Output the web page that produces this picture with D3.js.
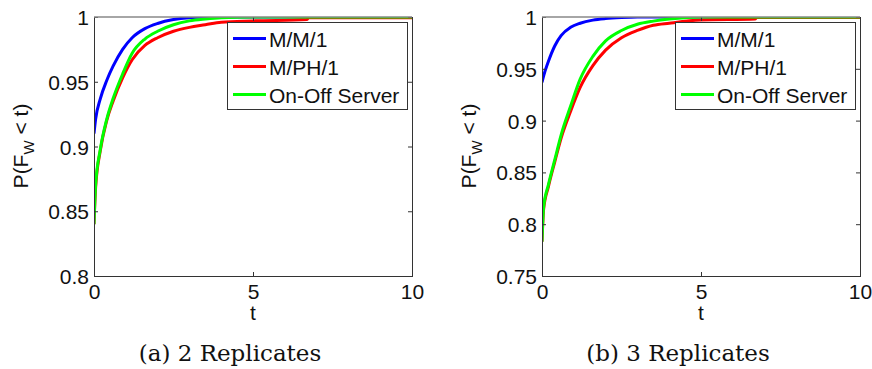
<!DOCTYPE html>
<html>
<head>
<meta charset="utf-8">
<script src="https://cdn.jsdelivr.net/npm/d3@7"></script>
<style>
body { margin: 0; background: #fff; }
text { font-family: "Liberation Sans", Arial, sans-serif; }
</style>
</head>
<body>
<script>
// time grid shared by all curves
var tGrid = [0, 0.05, 0.2, 0.4, 0.6, 0.9, 1.2, 1.6, 2.0, 2.5, 3.0, 3.5, 4.0, 5.0, 6.7, 6.75, 10];

// (a) 2 replicates
var mm1A   = [0.910, 0.921, 0.937, 0.951, 0.962, 0.975, 0.984, 0.991, 0.995, 0.998, 0.9995, 1, 1, 1, 1, 1, 1];
var mph1A  = [0.840, 0.868, 0.897, 0.920, 0.935, 0.953, 0.967, 0.978, 0.984, 0.989, 0.992, 0.994, 0.996, 0.997, 0.998, 0.9995, 0.9995];
var onoffA = [0.840, 0.870, 0.898, 0.921, 0.937, 0.956, 0.972, 0.983, 0.989, 0.994, 0.997, 0.9985, 0.9995, 1, 1, 1, 1];

// (b) 3 replicates
var mm1B   = [0.937, 0.943, 0.957, 0.972, 0.982, 0.990, 0.994, 0.997, 0.9985, 0.9995, 1, 1, 1, 1, 1, 1, 1];
var mph1B  = [0.783, 0.814, 0.836, 0.860, 0.883, 0.909, 0.932, 0.953, 0.968, 0.980, 0.987, 0.992, 0.994, 0.997, 0.998, 0.9995, 0.9995];
var onoffB = [0.783, 0.816, 0.838, 0.862, 0.886, 0.914, 0.940, 0.962, 0.977, 0.987, 0.993, 0.996, 0.998, 1, 1, 1, 1];

var seriesNames = ["M/M/1", "M/PH/1", "On-Off Server"];
var seriesColors = ["#0000ff", "#ff0000", "#00ff00"];
var xTicks = [0, 5, 10];
var yTicksA = [0.8, 0.85, 0.9, 0.95, 1];
var yTicksB = [0.75, 0.8, 0.85, 0.9, 0.95, 1];

var svg = d3.select("body").append("svg")
	.attr("width", 872)
	.attr("height", 369);

function drawPanel(id, left, yDomain, yTicks, data, caption) {
	var top = 17, w = 318, h = 259;
	var x = d3.scaleLinear().domain([0, 10]).range([left, left + w]);
	var y = d3.scaleLinear().domain(yDomain).range([top + h, top]);
	var g = svg.append("g");

	g.append("clipPath").attr("id", "clip" + id)
		.append("rect").attr("x", left).attr("y", top).attr("width", w).attr("height", h);

	var line = d3.line()
		.x(function(d) { return x(d[0]); })
		.y(function(d) { return y(d[1]); })
		.curve(d3.curveMonotoneX);

	data.forEach(function(vals, i) {
		g.append("path")
			.datum(tGrid.map(function(t, k) { return [t, vals[k]]; }))
			.attr("d", line)
			.attr("clip-path", "url(#clip" + id + ")")
			.attr("fill", "none")
			.attr("stroke", seriesColors[i])
			.attr("stroke-width", 3);
	});

	// axes with inward ticks
	var fmt = function(d) { return String(d); };
	var ax = g.append("g").attr("transform", "translate(0," + (top + h) + ")")
		.call(d3.axisBottom(x).tickValues(xTicks).tickSize(-4).tickPadding(8).tickFormat(fmt));
	var ay = g.append("g").attr("transform", "translate(" + left + ",0)")
		.call(d3.axisLeft(y).tickValues(yTicks).tickSize(-4).tickPadding(5).tickFormat(fmt));
	g.append("g").attr("transform", "translate(0," + top + ")")
		.call(d3.axisTop(x).tickValues(xTicks).tickSize(-4).tickFormat(""));
	g.append("g").attr("transform", "translate(" + (left + w) + ",0)")
		.call(d3.axisRight(y).tickValues(yTicks).tickSize(-4).tickFormat(""));
	g.selectAll(".domain").remove();
	g.selectAll(".tick line").attr("stroke", "#333");
	g.selectAll(".tick text").attr("font-size", 21).attr("fill", "#111")
		.style("font-family", "'Liberation Sans', Arial, sans-serif");
	ax.selectAll(".tick text").attr("dy", "0.71em");
	ay.selectAll(".tick text").attr("dy", "0.36em");

	// box
	g.append("path")
		.attr("d", "M" + left + "," + top + "V" + (top + h) + "H" + (left + w) + "V" + top)
		.attr("fill", "none").attr("stroke", "#333").attr("stroke-width", 1)
		.attr("shape-rendering", "crispEdges");
	g.append("line")
		.attr("x1", left).attr("x2", left + w).attr("y1", top).attr("y2", top)
		.attr("stroke", "#888").attr("stroke-width", 1.5);

	// axis labels
	g.append("text")
		.attr("x", left + w / 2).attr("y", 320)
		.attr("text-anchor", "middle").attr("font-size", 21).attr("fill", "#111")
		.text("t");
	var yl = g.append("text")
		.attr("transform", "translate(" + (left - 66) + "," + 146 + ") rotate(-90)")
		.attr("text-anchor", "middle").attr("font-size", 21).attr("fill", "#111");
	yl.append("tspan").text("P(F");
	yl.append("tspan").attr("font-size", 15).attr("dy", 6).text("W");
	yl.append("tspan").attr("dy", -6).text(" < t)");

	// legend
	var lx = left + w - 185, ly = 22;
	g.append("rect")
		.attr("x", lx).attr("y", ly).attr("width", 180).attr("height", 87)
		.attr("fill", "#fff").attr("stroke", "#333").attr("stroke-width", 1)
		.attr("shape-rendering", "crispEdges");
	seriesNames.forEach(function(name, i) {
		var yy = ly + 16.5 + i * 28;
		g.append("line")
			.attr("x1", lx + 6).attr("x2", lx + 39).attr("y1", yy).attr("y2", yy)
			.attr("stroke", seriesColors[i]).attr("stroke-width", 3);
		g.append("text")
			.attr("x", lx + 42).attr("y", yy + 8)
			.attr("font-size", 21).attr("fill", "#111")
			.text(name);
	});

	// caption
	g.append("text")
		.attr("x", left + w / 2 - 23).attr("y", 361)
		.attr("text-anchor", "middle")
		.style("font-family", "'DejaVu Serif', serif")
		.attr("font-size", 23).attr("fill", "#111")
		.text(caption);
}

drawPanel("a", 94, [0.8, 1], yTicksA, [mm1A, mph1A, onoffA], "(a) 2 Replicates");
drawPanel("b", 542, [0.75, 1], yTicksB, [mm1B, mph1B, onoffB], "(b) 3 Replicates");
</script>
</body>
</html>
